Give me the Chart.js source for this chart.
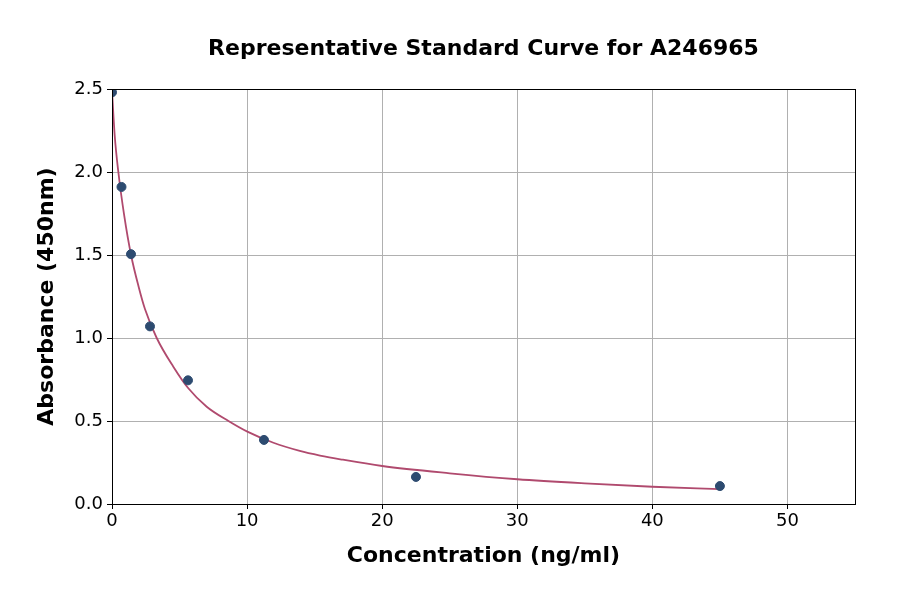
<!DOCTYPE html>
<html><head><meta charset="utf-8">
<script src="https://cdn.jsdelivr.net/npm/chart.js@4/dist/chart.umd.min.js"></script>
<style>html,body{margin:0;padding:0;background:#fff}#wrap{width:900px;height:594px}</style>
</head><body><div id="wrap"><canvas id="c" width="900" height="594"></canvas></div>
<script>
const titleText = 'Representative Standard Curve for A246965';
const xLabel = 'Concentration (ng/ml)';
const yLabel = 'Absorbance (450nm)';
const pointX = [0, 0.703, 1.406, 2.8125, 5.625, 11.25, 22.5, 45];
const pointY = [2.48, 1.91, 1.505, 1.07, 0.745, 0.386, 0.163, 0.108];
const curveX = [0, 0.2, 0.47, 0.9, 1.41, 2.0, 2.44, 3.31, 4.54, 5.65, 7.01, 8.62, 10.02, 11.95, 13.9, 15.4, 17, 20, 25, 30, 35, 40, 45];
const curveY = [2.49, 2.22, 2.0, 1.74, 1.5, 1.30, 1.175, 1.0, 0.827, 0.697, 0.586, 0.5, 0.436, 0.369, 0.32, 0.292, 0.268, 0.229, 0.185, 0.149, 0.124, 0.104, 0.09];
const xTicks = [0, 10, 20, 30, 40, 50];
const yTicks = [0.0, 0.5, 1.0, 1.5, 2.0, 2.5];

const frame = {
  id: 'frame',
  afterDraw(chart) {
    const {ctx, chartArea: a} = chart;
    ctx.save();
    ctx.strokeStyle = '#000'; ctx.lineWidth = 1;
    ctx.strokeRect(a.left + 0.5, a.top + 0.5, a.right - a.left, a.bottom - a.top);
    ctx.fillStyle = '#000';
    ctx.font = 'bold 22px "DejaVu Sans"';
    ctx.textAlign = 'center'; ctx.textBaseline = 'middle';
    ctx.fillText(titleText, (a.left + a.right) / 2, 49);
    ctx.restore();
  }
};

new Chart(document.getElementById('c'), {
  type: 'scatter',
  data: {
    datasets: [
      {
        type: 'line',
        data: curveX.map((x, i) => ({x, y: curveY[i]})),
        borderColor: '#b04a6e', borderWidth: 1.8, pointRadius: 0,
        cubicInterpolationMode: 'monotone', fill: false, order: 2
      },
      {
        data: pointX.map((x, i) => ({x, y: pointY[i]})),
        backgroundColor: '#2d4b70', borderColor: '#2d4b70',
        pointRadius: 4.5, order: 1
      }
    ]
  },
  options: {
    responsive: false, animation: false, devicePixelRatio: 1,
    layout: {padding: {left: 0, right: 45, top: 89, bottom: 0}},
    plugins: {legend: {display: false}, tooltip: {enabled: false}},
    scales: {
      x: {
        type: 'linear', min: 0, max: 55,
        afterBuildTicks: s => { s.ticks = xTicks.map(v => ({value: v})); },
        afterFit: s => { s.height = 90; },
        ticks: {color: '#000', font: {family: 'DejaVu Sans', size: 18}, padding: 2, maxRotation: 0},
        grid: {color: '#b0b0b0', lineWidth: 1, tickColor: '#000', tickLength: 5, drawTicks: true},
        border: {color: '#000', width: 1},
        title: {display: true, text: xLabel, color: '#000', font: {family: 'DejaVu Sans', size: 22, weight: 'bold'}, padding: {top: 0, bottom: 25}}
      },
      y: {
        type: 'linear', min: 0, max: 2.5,
        afterBuildTicks: s => { s.ticks = yTicks.map(v => ({value: v})); },
        afterFit: s => { s.width = 112; },
        ticks: {color: '#000', font: {family: 'DejaVu Sans', size: 18}, padding: 4, callback: v => v.toFixed(1)},
        grid: {color: '#b0b0b0', lineWidth: 1, tickColor: '#000', tickLength: 5, drawTicks: true},
        border: {color: '#000', width: 1},
        title: {display: true, text: yLabel, color: '#000', font: {family: 'DejaVu Sans', size: 22, weight: 'bold'}, padding: {top: 34, bottom: 0}}
      }
    }
  },
  plugins: [frame]
});
</script></body></html>
